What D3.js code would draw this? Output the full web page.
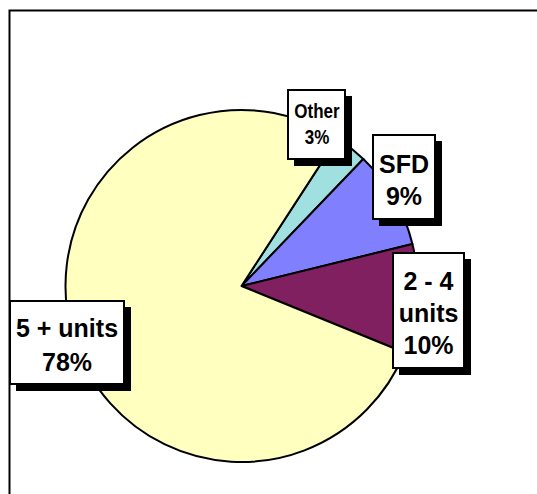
<!DOCTYPE html>
<html>
<head>
<meta charset="utf-8">
<script src="https://cdn.jsdelivr.net/npm/d3@7"></script>
<style>
  body { margin: 0; background: #fff; }
  svg text { font-family: "Liberation Sans", Arial, sans-serif; font-weight: bold; fill: #000; }
</style>
</head>
<body>
<div id="chart"></div>
<script>
  // data
  var categories = ["Other", "SFD", "2 - 4 units", "5 + units"];
  var values = [3, 9, 10, 78];
  var colors = ["#A0E0E0", "#8080FF", "#802060", "#FFFFC0"];

  // label layout (box + text lines)
  var nameLines = [["Other"], ["SFD"], ["2 - 4", "units"], ["5 + units"]];
  var labelBoxes = [
    { x: 288, y: 90, w: 57, h: 69, cx: 317, base: 118, step: 26, size: 20, sx: 0.85 },
    { x: 373, y: 135, w: 62, h: 84, cx: 404, base: 173, step: 32, size: 25, sx: 1 },
    { x: 393, y: 253, w: 71, h: 115, cx: 428.5, base: 290, step: 32, size: 25, sx: 1 },
    { x: 10, y: 301, w: 114, h: 83, cx: 67, base: 337, step: 34, size: 25, sx: 1 }
  ];

  var width = 537, height = 494;
  var cx = 241.5, cy = 286, radius = 176;

  var svg = d3.select("#chart").append("svg")
    .attr("width", width)
    .attr("height", height);

  // outer frame (runs off the right and bottom edges)
  svg.append("rect")
    .attr("x", 9.5)
    .attr("y", 10.5)
    .attr("width", 700)
    .attr("height", 700)
    .attr("fill", "none")
    .attr("stroke", "#000")
    .attr("stroke-width", 2);

  var table = categories.map((c, i) => ({ name: c, value: values[i], color: colors[i], i: i }));

  var startDeg = 33;
  var pie = d3.pie()
    .sort(null)
    .value(d => d.value)
    .startAngle(startDeg * Math.PI / 180)
    .endAngle(startDeg * Math.PI / 180 + 2 * Math.PI);

  var arc = d3.arc()
    .innerRadius(0)
    .outerRadius(radius);

  var g = svg.append("g")
    .attr("transform", "translate(" + cx + "," + cy + ")");

  g.selectAll("path")
    .data(pie(table))
    .enter()
    .append("path")
    .attr("d", arc)
    .attr("fill", d => d.data.color)
    .attr("stroke", "#000")
    .attr("stroke-width", 2)
    .attr("stroke-linejoin", "round");

  // labels with drop shadow
  var lab = svg.selectAll("g.lab")
    .data(table)
    .enter()
    .append("g")
    .attr("class", "lab");

  lab.append("rect")
    .attr("x", d => labelBoxes[d.i].x + 6)
    .attr("y", d => labelBoxes[d.i].y + 6)
    .attr("width", d => labelBoxes[d.i].w + 1)
    .attr("height", d => labelBoxes[d.i].h + 1)
    .attr("fill", "#000");

  lab.append("rect")
    .attr("x", d => labelBoxes[d.i].x)
    .attr("y", d => labelBoxes[d.i].y)
    .attr("width", d => labelBoxes[d.i].w)
    .attr("height", d => labelBoxes[d.i].h)
    .attr("fill", "#fff")
    .attr("stroke", "#000")
    .attr("stroke-width", 2);

  lab.each(function(d) {
    var b = labelBoxes[d.i];
    var lines = nameLines[d.i].concat([d.value + "%"]);
    var tg = d3.select(this).append("g")
      .attr("transform", "translate(" + b.cx + ",0) scale(" + b.sx + ",1)");
    lines.forEach((t, k) => {
      tg.append("text")
        .attr("x", 0)
        .attr("y", b.base + k * b.step)
        .attr("text-anchor", "middle")
        .attr("font-size", b.size + "px")
        .text(t);
    });
  });
</script>
</body>
</html>
